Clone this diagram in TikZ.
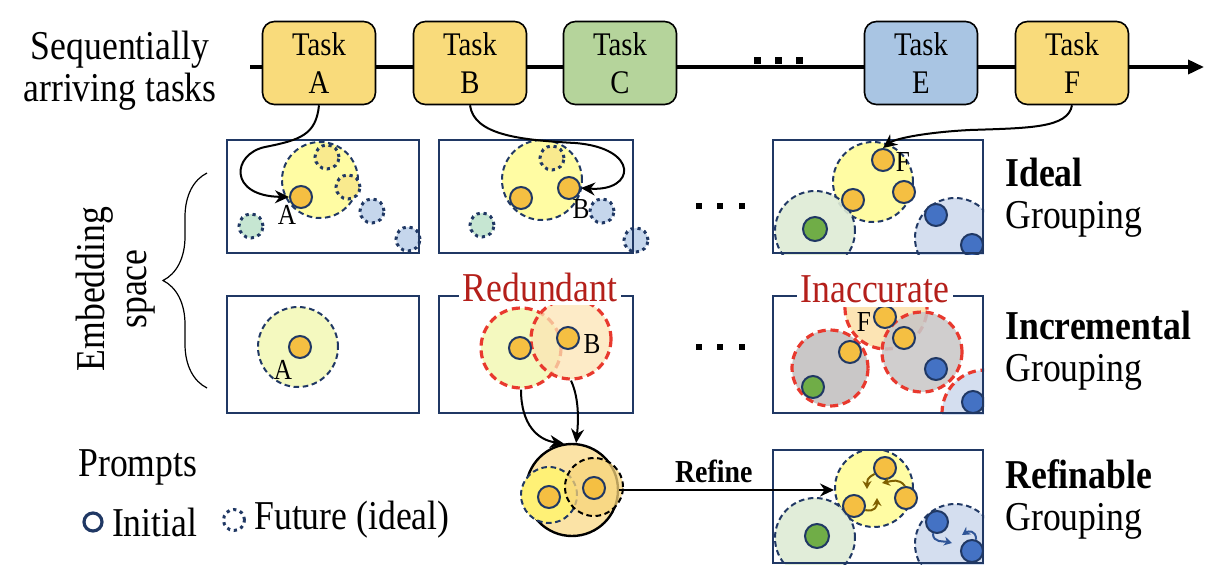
\documentclass[tikz,border=0pt]{standalone}
\usepackage{fontspec}
\setmainfont[FakeStretch=0.87]{Liberation Serif}
\usetikzlibrary{arrows.meta,backgrounds,positioning,decorations.pathreplacing}

\definecolor{navyln}{HTML}{203864}
\definecolor{taskY}{HTML}{F9DB7B}
\definecolor{taskG}{HTML}{B5D49B}
\definecolor{taskB}{HTML}{A9C5E3}
\definecolor{yelfill}{HTML}{FFFCA3}
\definecolor{yelpale}{HTML}{F4F9BF}
\definecolor{yelfut}{HTML}{F9EA8E}
\definecolor{grnfut}{HTML}{C6E6D2}
\definecolor{blufut}{HTML}{C5D6EC}
\definecolor{grnpale}{HTML}{DEEBD5}
\definecolor{blupale}{HTML}{D4DEEF}
\definecolor{grypale}{HTML}{C9C7C7}
\definecolor{peach}{HTML}{FCE4B4}
\definecolor{orgdot}{HTML}{F5BF42}
\definecolor{grndot}{HTML}{70AD47}
\definecolor{bludot}{HTML}{4472C4}
\definecolor{redln}{HTML}{E8392E}
\definecolor{redtx}{HTML}{B41F1A}
\definecolor{brnarr}{HTML}{7F6000}
\definecolor{bluarr}{HTML}{2F5597}
\definecolor{mergefill}{HTML}{FBE3A6}
\definecolor{mergeyel}{HTML}{FFF176}
\definecolor{mergeorg}{HTML}{F8D57B}

\tikzset{
  txt/.style={font=\fontsize{20.5}{21}\selectfont, inner sep=1pt},
  task/.style={draw, line width=0.8pt, rounded corners=6pt, minimum width=56.5pt,
    minimum height=41.5pt, align=center, font=\fontsize{16.5}{19}\selectfont},
  panel/.style={draw=navyln, line width=1pt, minimum height=56.5pt, inner sep=0pt},
  grp/.style={circle, draw=navyln, line width=1pt, dash pattern=on 2.8pt off 1.8pt,
    minimum size=40pt, inner sep=0pt},
  bad/.style={grp, draw=redln, line width=1.6pt, dash pattern=on 4pt off 2.4pt},
  dot/.style={circle, draw=navyln, line width=1pt, minimum size=11pt, inner sep=0pt,
    fill=orgdot},
  fut/.style={circle, draw=navyln, line width=1.5pt, dash pattern=on 1.6pt off 1.9pt,
    minimum size=12pt, inner sep=0pt},
  lbl/.style={font=\fontsize{14.5}{14.5}\selectfont, inner sep=0pt},
  warn/.style={txt, text=redtx, fill=white, inner sep=2pt},
  arr/.style={->, line width=1pt},
  mv/.style={-{Stealth[length=4pt,width=4.5pt]}, line width=1pt},
}

\begin{document}
\begin{tikzpicture}[x=0.5pt, y=-0.5pt, >={Stealth[length=7pt,width=6.5pt]}]
  \useasboundingbox (0,0) rectangle (1232,584);

  % task stream
  \node[txt, align=center] (seq) at (120,71) {Sequentially\\arriving tasks};
  \coordinate (tl0) at (250,67);
  \coordinate (tl1) at (1204,67);
  \draw[line width=1.8pt, -{Triangle[length=8pt,width=7pt]}] (tl0) -- (tl1);
  \node[task, fill=taskY] (tA) at (319,63) {Task\\A};
  \node[task, fill=taskY] (tB) at (470,63) {Task\\B};
  \node[task, fill=taskG] (tC) at (620,63) {Task\\C};
  \node[task, fill=taskB] (tE) at (921,63) {Task\\E};
  \node[task, fill=taskY] (tF) at (1072,63) {Task\\F};
  \foreach \x in {757,778,799}
    \fill (\x-3.5,56.5) rectangle +(7,7);

  % panels
  \node[panel, minimum width=96pt] (p11) at (323,196.5) {};
  \node[panel, minimum width=97pt] (p12) at (536,196.5) {};
  \node[panel, minimum width=105pt] (p13) at (878,196.5) {};
  \node[panel, minimum width=96pt, minimum height=58.5pt] (p21) at (323,354.5) {};
  \node[panel, minimum width=97pt, minimum height=58.5pt] (p22) at (536,354.5) {};
  \node[panel, minimum width=105pt, minimum height=58.5pt] (p23) at (878,354.5) {};
  \node[panel, minimum width=105pt] (p33) at (878,506.5) {};
  \foreach \y in {206,347}
    \foreach \x in {699,720,742}
      \fill (\x-3,\y-3) rectangle +(6,6);

  % ideal grouping
  \begin{pgfonlayer}{background}
    \node[grp, fill=yelfill, minimum size=38pt] (g11) at (320,180) {};
    \node[fut, fill=yelfut] (f11a) at (327,157) {};
    \node[fut, fill=yelfut] (f11b) at (348,187) {};
    \node[fut, fill=blufut] (f11c) at (372,211) {};
    \node[fut, fill=grnfut] (f11d) at (251,226) {};
    \node[fut, fill=blufut] (f11e) at (408,239) {};
    \node[dot] (oA1) at (301,197) {};

    \node[grp, fill=yelfill] (g12) at (542,180) {};
    \node[fut, fill=yelfut] (f12a) at (552,158) {};
    \node[fut, fill=blufut] (f12b) at (602,211) {};
    \node[fut, fill=grnfut] (f12c) at (482,225) {};
    \node[fut, fill=blufut] (f12d) at (636,240) {};
    \node[dot] (oB1) at (521,198) {};
    \node[dot] (oB2) at (569,188) {};
  \end{pgfonlayer}
  \begin{pgfonlayer}{background}
  \begin{scope}
    \clip (p13.south west) rectangle (p13.north east);
    \node[grp, fill=yelfill] (g13y) at (873,182) {};
    \node[grp, fill=grnpale, fill opacity=0.9] (g13g) at (815,231) {};
    \node[grp, fill=blupale] (g13b) at (955,238) {};
    \node[dot] (oF1) at (883,160) {};
    \node[dot] (oF2) at (904,192) {};
    \node[dot] (oF3) at (853,200) {};
    \node[dot, fill=grndot, minimum size=12pt] (gd13) at (815,229) {};
    \node[dot, fill=bludot] (bd13a) at (936,215) {};
    \node[dot, fill=bludot] (bd13b) at (972,245) {};
  \end{scope}
  \end{pgfonlayer}
  \node[lbl] (lA1) at (287,215) {A};
  \node[lbl] (lB1) at (581,209) {B};
  \node[lbl] (lF1) at (903,162) {F};
  \draw[arr] (tA.south) .. controls (316,135) and (300,140) .. (265,147)
    .. controls (232,154) and (228,196) .. (oA1.west);
  \draw[arr] (tB.south) .. controls (474,135) and (520,140) .. (575,143)
    .. controls (640,148) and (636,192) .. (oB2.east);
  \draw[arr] (tF.south) .. controls (1068,128) and (1030,128) .. (970,130)
    .. controls (930,132) and (896,138) .. (oF1.north);

  % incremental grouping
  \begin{pgfonlayer}{background}
    \node[grp, fill=yelpale] (g21) at (298,347) {};
    \node[dot] (oA2) at (300,347) {};

    \node[bad, fill=yelpale] (g22a) at (521,348) {};
    \node[bad, fill=peach, fill opacity=0.75] (g22b) at (571,339) {};
    \node[dot] (oB3) at (520,348) {};
    \node[dot] (oB4) at (568,338) {};
  \end{pgfonlayer}
  \begin{pgfonlayer}{background}
  \begin{scope}
    \clip (p23.south west) rectangle (p23.north east);
    \node[bad, fill=peach, minimum size=41pt] (g23p) at (886,308) {};
    \node[bad, fill=grypale, minimum size=38pt] (g23l) at (830,368) {};
    \node[bad, fill=grypale, fill opacity=0.88] (g23r) at (922,352) {};
    \node[bad, fill=blupale, minimum size=43pt] (g23b) at (985,413) {};
    \node[dot] (oF4) at (885,317) {};
    \node[dot] (oF5) at (904,338) {};
    \node[dot] (oF6) at (850,352) {};
    \node[dot, fill=grndot] (gd23) at (813,387) {};
    \node[dot, fill=bludot] (bd23a) at (936,369) {};
    \node[dot, fill=bludot] (bd23b) at (973,402) {};
  \end{scope}
  \end{pgfonlayer}
  \node[lbl] (lA2) at (283,370) {A};
  \node[lbl] (lB2) at (592,344) {B};
  \node[lbl] (lF2) at (864,322) {F};
  \node[warn] (red) at (540,287) {Redundant};
  \node[warn] (inacc) at (875,289) {Inaccurate};

  % merged prompt
  \node[circle, draw, line width=1.2pt, fill=mergefill, minimum size=46pt,
    inner sep=0pt] (mg) at (572,490) {};
  \node[grp, fill=mergeyel, minimum size=28pt] (m1) at (549,495) {};
  \node[grp, draw=black, fill=mergeorg, fill opacity=0.75, minimum size=29pt] (m2) at (594,487) {};
  \node[dot] (om1) at (549,497) {};
  \node[dot] (om2) at (594,488) {};
  \draw[arr] (g22a.south) .. controls (521,425) and (538,440) .. (mg.100);
  \draw[arr] (g22b.south) .. controls (580,400) and (578,425) .. (mg.85);

  % refinable grouping
  \begin{pgfonlayer}{background}
  \begin{scope}
    \clip (p33.south west) rectangle (p33.north east);
    \node[grp, fill=yelfill, minimum size=39pt] (r3y) at (874,488) {};
    \node[grp, fill=grnpale, fill opacity=0.9] (r3g) at (815,538) {};
    \node[grp, fill=blupale] (r3b) at (955,544) {};
    \node[dot] (o31) at (885,468) {};
    \node[dot] (o32) at (906,498) {};
    \node[dot] (o33) at (854,506) {};
    \node[dot, fill=grndot, minimum size=12pt] (gd33) at (817,536) {};
    \node[dot, fill=bludot] (bd33a) at (937,522) {};
    \node[dot, fill=bludot] (bd33b) at (972,551) {};
  \end{scope}
  \end{pgfonlayer}
  \draw[mv, brnarr] (o31.210) .. controls +(-8,4) and +(0,-8) .. (867,489);
  \draw[mv, brnarr] (o32.95) .. controls +(-6,-8) and +(10,-2) .. (882,483);
  \draw[mv, brnarr] (o33.-20) .. controls +(10,2) and +(0,8) .. (877,498);
  \draw[mv, bluarr] (bd33a.-110) .. controls +(0,10) and +(-8,-2) .. (952,543);
  \draw[mv, bluarr] (bd33b.70) .. controls +(0,-10) and +(6,-4) .. (962,535);
  \draw[arr] (mg.east) -- node[above, font=\bfseries\fontsize{16}{16}\selectfont,
    pos=0.44, inner sep=3pt] (rfn) {Refine} (mg.east -| r3y.west);

  % captions
  \node[txt, anchor=west, align=left] (capI) at (1003,198) {\textbf{Ideal}\\Grouping};
  \node[txt, anchor=west, align=left] (capN) at (1003,351) {\textbf{Incremental}\\Grouping};
  \node[txt, anchor=west, align=left] (capR) at (1003,499) {\textbf{Refinable}\\Grouping};
  \node[txt, align=center, rotate=90] (emb) at (116,289) {Embedding\\space};
  \draw[line width=0.6pt, decorate, decoration={brace, amplitude=22pt}]
    (207,388) -- (207,173);

  % legend
  \node[txt, anchor=west] (prm) at (76,467) {Prompts};
  \node[circle, draw=navyln, line width=1.6pt, minimum size=9pt, inner sep=0pt] (lgI) at (93,522) {};
  \node[txt, right=3pt of lgI] (lgIt) {Initial};
  \node[fut, fill=none, minimum size=10.5pt] (lgF) at (234,520) {};
  \node[txt, right=3pt of lgF] (lgFt) {Future (ideal)};
\end{tikzpicture}
\end{document}
